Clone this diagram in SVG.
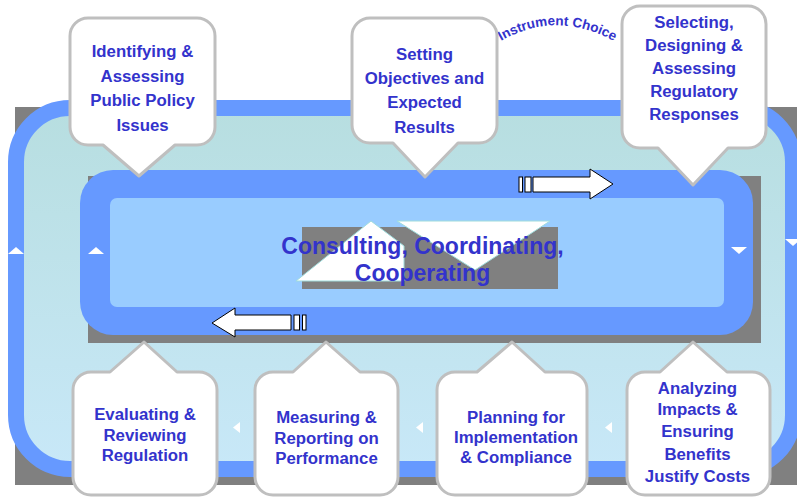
<svg xmlns="http://www.w3.org/2000/svg" width="797" height="497" viewBox="0 0 797 497">
<defs>
<linearGradient id="outerFill" x1="0" y1="0" x2="0" y2="1">
<stop offset="0" stop-color="#B7DEE0"/>
<stop offset="1" stop-color="#C8E8F8"/>
</linearGradient>
</defs>
<style>
.shadow{fill:#808080}
.ring{fill:#6699FF}
.callout{fill:#FFFFFF;stroke:#BFBFBF;stroke-width:3;stroke-linejoin:round}
.lbl{font-family:"Liberation Sans",Arial,sans-serif;font-weight:bold;font-size:16.8px;fill:#3333CC;text-anchor:middle}
.center{font-family:"Liberation Sans",Arial,sans-serif;font-weight:bold;font-size:23px;fill:#3333CC;text-anchor:middle}
.tri{fill:#FFFFFF}
.ctri{fill:#FFFFFF;stroke:#9FDCDC;stroke-width:1}
.blk{fill:#FFFFFF;stroke:#000000;stroke-width:1}
</style>

<g id="outer-cycle">
<rect class="shadow" x="15" y="107" width="790" height="378"/>
<rect x="16" y="108" width="777" height="361" rx="54" fill="url(#outerFill)" stroke="#6699FF" stroke-width="16"/>
</g>

<g id="inner-cycle">
<rect class="shadow" x="88" y="176" width="673" height="167"/>
<rect class="ring" x="80" y="170" width="673" height="165" rx="33"/>
<rect x="110" y="198" width="614" height="109" rx="7" fill="#99CCFF"/>
</g>

<g id="center">
<rect class="shadow" x="302" y="227" width="256" height="62"/>
<polygon class="ctri" points="296,281 371,221 404,246 404,281"/>
<polygon class="ctri" points="397,221 550,221 475,270"/>
<text class="center" x="422.5" y="254">Consulting, Coordinating,</text>
<text class="center" x="422.5" y="281">Cooperating</text>
</g>

<g id="connectors">
<polygon class="tri" points="8,254 16,247 24,254"/>
<polygon class="tri" points="88,254 96,247 104,254"/>
<polygon class="tri" points="731,247 739,254 747,247"/>
<polygon class="tri" points="785,239 793,246 801,239"/>
<polygon class="tri" points="240,422 233,427.5 240,433"/>
<polygon class="tri" points="423,422 416,427.5 423,433"/>
<polygon class="tri" points="612,422 605,427.5 612,433"/>
<rect class="blk" x="519" y="177" width="3.5" height="15"/>
<rect class="blk" x="525" y="177" width="6" height="15"/>
<polygon class="blk" points="533,177 590,177 590,169 613,184 590,199 590,192 533,192"/>
<polygon class="blk" points="291,315 235,315 235,308 212,323 235,337 235,330 291,330"/>
<rect class="blk" x="294" y="315" width="5.5" height="15"/>
<rect class="blk" x="302.5" y="315" width="3.5" height="15"/>
</g>

<g id="instrument-choice">
<path id="arcPath" d="M501,41 Q558,8 619,44" fill="none"/>
<text font-family="'Liberation Sans',Arial,sans-serif" font-weight="bold" font-size="13.5" fill="#3333CC"><textPath href="#arcPath">Instrument Choice</textPath></text>
</g>

<g id="node-identifying">
<path class="callout" d="M88,18 H197 A18,18 0 0 1 215,36 V127 A18,18 0 0 1 197,145 H175 L139,176 L103,145 H88 A18,18 0 0 1 70,127 V36 A18,18 0 0 1 88,18 Z"/>
<text class="lbl" x="142.5" y="57">Identifying &amp;</text>
<text class="lbl" x="142.5" y="81.5">Assessing</text>
<text class="lbl" x="142.5" y="106">Public Policy</text>
<text class="lbl" x="142.5" y="130.5">Issues</text>
</g>

<g id="node-setting">
<path class="callout" d="M370,18 H479 A18,18 0 0 1 497,36 V125 A18,18 0 0 1 479,143 H458 L425,177 L393,143 H370 A18,18 0 0 1 352,125 V36 A18,18 0 0 1 370,18 Z"/>
<text class="lbl" x="424.5" y="60">Setting</text>
<text class="lbl" x="424.5" y="84">Objectives and</text>
<text class="lbl" x="424.5" y="108">Expected</text>
<text class="lbl" x="424.5" y="132.5">Results</text>
</g>

<g id="node-selecting">
<path class="callout" d="M640,6 H748 A18,18 0 0 1 766,24 V130 A18,18 0 0 1 748,148 H728 L693,185 L658,148 H640 A18,18 0 0 1 622,130 V24 A18,18 0 0 1 640,6 Z"/>
<text class="lbl" x="694" y="28">Selecting,</text>
<text class="lbl" x="694" y="51">Designing &amp;</text>
<text class="lbl" x="694" y="74">Assessing</text>
<text class="lbl" x="694" y="97">Regulatory</text>
<text class="lbl" x="694" y="119.5">Responses</text>
</g>

<g id="node-evaluating">
<path class="callout" d="M91,372 H110 L144,342 L177,372 H199 A18,18 0 0 1 217,390 V477 A18,18 0 0 1 199,495 H91 A18,18 0 0 1 73,477 V390 A18,18 0 0 1 91,372 Z"/>
<text class="lbl" x="145" y="420">Evaluating &amp;</text>
<text class="lbl" x="145" y="441">Reviewing</text>
<text class="lbl" x="145" y="461">Regulation</text>
</g>

<g id="node-measuring">
<path class="callout" d="M273,372 H293 L326,342 L360,372 H380 A18,18 0 0 1 398,390 V477 A18,18 0 0 1 380,495 H273 A18,18 0 0 1 255,477 V390 A18,18 0 0 1 273,372 Z"/>
<text class="lbl" x="326.5" y="423">Measuring &amp;</text>
<text class="lbl" x="326.5" y="444">Reporting on</text>
<text class="lbl" x="326.5" y="464">Performance</text>
</g>

<g id="node-planning">
<path class="callout" d="M455,372 H477 L512,342 L545,372 H569 A18,18 0 0 1 587,390 V477 A18,18 0 0 1 569,495 H455 A18,18 0 0 1 437,477 V390 A18,18 0 0 1 455,372 Z"/>
<text class="lbl" x="516" y="423">Planning for</text>
<text class="lbl" x="516" y="443">Implementation</text>
<text class="lbl" x="516" y="463">&amp; Compliance</text>
</g>

<g id="node-analyzing">
<path class="callout" d="M645,372 H660 L693,342 L727,372 H752 A18,18 0 0 1 770,390 V477 A18,18 0 0 1 752,495 H645 A18,18 0 0 1 627,477 V390 A18,18 0 0 1 645,372 Z"/>
<text class="lbl" x="697.5" y="393.5">Analyzing</text>
<text class="lbl" x="697.5" y="415">Impacts &amp;</text>
<text class="lbl" x="697.5" y="437">Ensuring</text>
<text class="lbl" x="697.5" y="459.5">Benefits</text>
<text class="lbl" x="697.5" y="481.5">Justify Costs</text>
</g>
</svg>
